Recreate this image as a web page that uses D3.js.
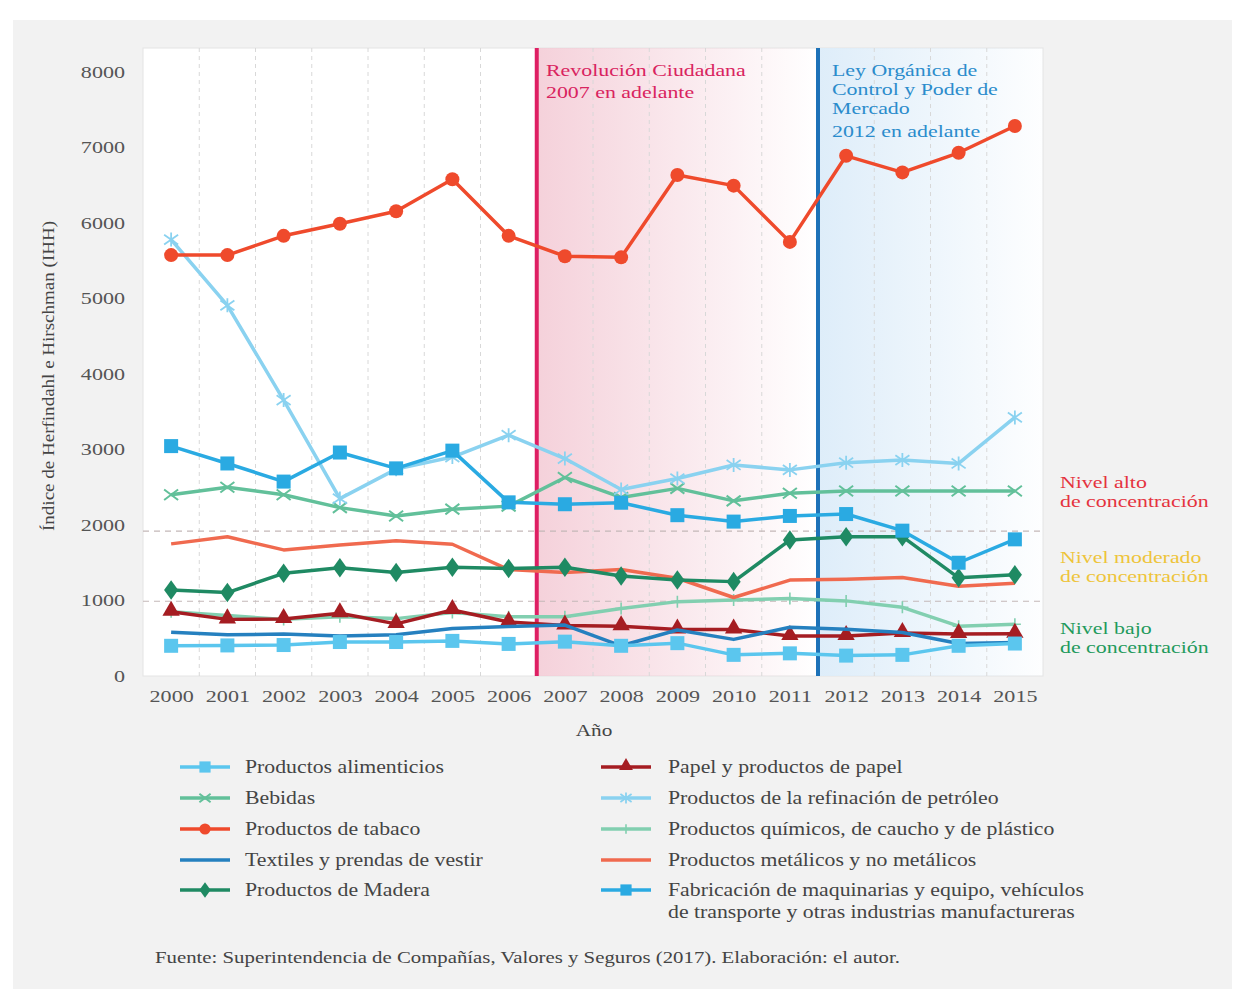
<!DOCTYPE html>
<html>
<head>
<meta charset="utf-8">
<script src="https://cdn.jsdelivr.net/npm/d3@7"></script>
<style>
  body { margin: 0; background: #fff; }
  text { font-family: "Liberation Serif", "DejaVu Serif", serif; }
</style>
</head>
<body>
<svg width="1252" height="998"></svg>
<script>
// Data
const years = d3.range(2000, 2016);
const yTicks = [0, 1000, 2000, 3000, 4000, 5000, 6000, 7000, 8000];
const thresholds = [990, 1920];

const alimenticios = [400, 405, 410, 450, 450, 465, 425, 455, 400, 435, 280, 300, 270, 280, 400, 430];
const bebidas = [2400, 2500, 2400, 2230, 2120, 2210, 2250, 2630, 2365, 2485, 2320, 2420, 2450, 2450, 2450, 2450];
const tabaco = [5575, 5575, 5830, 5990, 6155, 6580, 5830, 5560, 5545, 6635, 6495, 5750, 6890, 6670, 6930, 7285];
const textiles = [580, 545, 555, 530, 545, 630, 655, 675, 400, 610, 485, 645, 620, 575, 430, 445];
const madera = [1140, 1105, 1360, 1435, 1370, 1440, 1425, 1440, 1325, 1270, 1250, 1800, 1845, 1845, 1300, 1340];
const papel = [850, 750, 755, 830, 690, 875, 715, 670, 660, 615, 615, 530, 530, 570, 555, 560];
const refinacion = [5780, 4910, 3655, 2350, 2740, 2900, 3190, 2880, 2470, 2615, 2795, 2730, 2825, 2860, 2815, 3425];
const quimicos = [850, 800, 750, 785, 760, 840, 785, 785, 895, 985, 1005, 1025, 995, 910, 660, 685];
const metalicos = [1750, 1845, 1670, 1735, 1790, 1745, 1410, 1370, 1410, 1295, 1040, 1270, 1280, 1305, 1190, 1230];
const maquinarias = [3045, 2815, 2575, 2960, 2750, 2985, 2300, 2275, 2295, 2130, 2045, 2120, 2145, 1925, 1500, 1810];

const series = [
  { name: "Productos alimenticios", values: alimenticios, color: "#5bc6ee", marker: "square", col: 0 },
  { name: "Bebidas", values: bebidas, color: "#62c09a", marker: "x", col: 0 },
  { name: "Productos de tabaco", values: tabaco, color: "#ef4a2c", marker: "circle", col: 0 },
  { name: "Textiles y prendas de vestir", values: textiles, color: "#2580bf", marker: null, col: 0 },
  { name: "Productos de Madera", values: madera, color: "#1f8a63", marker: "diamond", col: 0 },
  { name: "Papel y productos de papel", values: papel, color: "#a51d22", marker: "triangle", col: 1 },
  { name: "Productos de la refinación de petróleo", values: refinacion, color: "#8ad2f0", marker: "asterisk", col: 1 },
  { name: "Productos químicos, de caucho y de plástico", values: quimicos, color: "#82cfb0", marker: "plus", col: 1 },
  { name: "Productos metálicos y no metálicos", values: metalicos, color: "#f06a4f", marker: null, col: 1 },
  { name: ["Fabricación de maquinarias y equipo, vehículos", "de transporte y otras industrias manufactureras"], values: maquinarias, color: "#2aaae2", marker: "square", col: 1 }
];

// Draw order (back to front)
const drawOrder = [7, 5, 3, 0, 8, 4, 1, 6, 9, 2];

const svg = d3.select("svg");

// text helper: the original typeface is wider than Liberation Serif, so stretch horizontally
function addText(x, y, str, size, color, k, anchor) {
  return svg.append("text")
    .attr("transform", `translate(${x},${y}) scale(${k},1)`)
    .attr("text-anchor", anchor || "start")
    .attr("font-size", size)
    .attr("fill", color)
    .text(str);
}

// Background panel
svg.append("rect")
  .attr("x", 13).attr("y", 20)
  .attr("width", 1219).attr("height", 969)
  .attr("fill", "#f2f2f2");

const plot = { left: 143, right: 1043, top: 48, bottom: 676 };

const x = d3.scalePoint()
  .domain(years)
  .range([plot.left, plot.right])
  .padding(0.5);

const y = d3.scaleLinear()
  .domain([0, 8000])
  .range([676, 72]);

const step = x.step();
const midX = yr => x(Math.floor(yr)) + step * (yr - Math.floor(yr));

// Plot background
svg.append("rect")
  .attr("x", plot.left).attr("y", plot.top)
  .attr("width", plot.right - plot.left).attr("height", plot.bottom - plot.top)
  .attr("fill", "#ffffff")
  .attr("stroke", "#e4e4e4");

// Gradients for periods
const defs = svg.append("defs");
const gPink = defs.append("linearGradient").attr("id", "gPink");
gPink.append("stop").attr("offset", "0%").attr("stop-color", "#f3c9d4").attr("stop-opacity", 0.85);
gPink.append("stop").attr("offset", "100%").attr("stop-color", "#f3c9d4").attr("stop-opacity", 0);
const gBlue = defs.append("linearGradient").attr("id", "gBlue");
gBlue.append("stop").attr("offset", "0%").attr("stop-color", "#dcecf9").attr("stop-opacity", 0.95);
gBlue.append("stop").attr("offset", "100%").attr("stop-color", "#dcecf9").attr("stop-opacity", 0.05);

svg.append("rect")
  .attr("x", midX(2006.5)).attr("y", plot.top)
  .attr("width", midX(2011.5) - midX(2006.5)).attr("height", plot.bottom - plot.top)
  .attr("fill", "url(#gPink)");

svg.append("rect")
  .attr("x", midX(2011.5)).attr("y", plot.top)
  .attr("width", plot.right - midX(2011.5)).attr("height", plot.bottom - plot.top)
  .attr("fill", "url(#gBlue)");

// Vertical dashed grid between years
svg.append("g")
  .selectAll("line")
  .data(years.slice(0, -1).map(d => d + 0.5).filter(d => d !== 2006.5 && d !== 2011.5))
  .enter()
  .append("line")
  .attr("x1", d => midX(d)).attr("x2", d => midX(d))
  .attr("y1", plot.top).attr("y2", plot.bottom)
  .attr("stroke", "#d8d8d8")
  .attr("stroke-dasharray", "4,4");

// Threshold lines
svg.append("g")
  .selectAll("line")
  .data(thresholds)
  .enter()
  .append("line")
  .attr("x1", plot.left).attr("x2", plot.right)
  .attr("y1", d => y(d)).attr("y2", d => y(d))
  .attr("stroke", "#c4b8b8")
  .attr("stroke-width", 1.2)
  .attr("stroke-dasharray", "6,5");

// Period lines
svg.append("line")
  .attr("x1", midX(2006.5)).attr("x2", midX(2006.5))
  .attr("y1", plot.top).attr("y2", plot.bottom)
  .attr("stroke", "#de1f63").attr("stroke-width", 4);
svg.append("line")
  .attr("x1", midX(2011.5)).attr("x2", midX(2011.5))
  .attr("y1", plot.top).attr("y2", plot.bottom)
  .attr("stroke", "#1d72b8").attr("stroke-width", 4);

// Axes
const tickK = 1.3;
const yAxis = svg.append("g")
  .attr("transform", `translate(${plot.left}, 0)`)
  .call(d3.axisLeft(y).tickValues(yTicks).tickSize(0).tickPadding(18).tickFormat(d3.format("d")));
yAxis.select(".domain").remove();
yAxis.selectAll("text")
  .attr("font-size", 17).attr("fill", "#555")
  .attr("x", -18 / tickK)
  .attr("transform", `scale(${tickK},1)`);

const xAxis = svg.append("g")
  .attr("transform", `translate(0, ${plot.bottom})`)
  .call(d3.axisBottom(x).tickSize(0).tickPadding(14).tickFormat(d3.format("d")));
xAxis.select(".domain").remove();
xAxis.selectAll("text")
  .attr("font-size", 17).attr("fill", "#555")
  .attr("transform", `scale(${tickK},1)`);

// Axis titles
svg.append("text")
  .attr("transform", "translate(54,376) rotate(-90) scale(1.12,1)")
  .attr("text-anchor", "middle")
  .attr("font-size", 17).attr("fill", "#444")
  .text("Índice de Herfindahl e Hirschman (IHH)");

addText(594, 736, "Año", 17, "#444", 1.25, "middle");

// Marker drawing
function drawMarker(g, type, color, cx, cy, scale) {
  const s = scale || 1;
  if (type === "square") {
    g.append("rect").attr("x", cx - 7 * s).attr("y", cy - 7 * s)
      .attr("width", 14 * s).attr("height", 14 * s).attr("fill", color);
  } else if (type === "circle") {
    g.append("circle").attr("cx", cx).attr("cy", cy).attr("r", 7 * s).attr("fill", color);
  } else if (type === "diamond") {
    g.append("path").attr("d", d3.symbol(d3.symbolDiamond, 110 * s * s)())
      .attr("transform", `translate(${cx},${cy}) scale(1.25,1)`).attr("fill", color);
  } else if (type === "triangle") {
    g.append("path").attr("d", d3.symbol(d3.symbolTriangle, 130 * s * s)())
      .attr("transform", `translate(${cx},${cy - 1})`).attr("fill", color);
  } else if (type === "x") {
    const r = 7 * s;
    g.append("path").attr("d", `M${cx - r},${cy - r * 0.75}L${cx + r},${cy + r * 0.75}M${cx - r},${cy + r * 0.75}L${cx + r},${cy - r * 0.75}`)
      .attr("stroke", color).attr("stroke-width", 2).attr("fill", "none");
  } else if (type === "asterisk") {
    const r = 7 * s;
    g.append("path").attr("d", `M${cx - r},${cy - r * 0.7}L${cx + r},${cy + r * 0.7}M${cx - r},${cy + r * 0.7}L${cx + r},${cy - r * 0.7}M${cx},${cy - r}L${cx},${cy + r}`)
      .attr("stroke", color).attr("stroke-width", 1.8).attr("fill", "none");
  } else if (type === "plus") {
    const r = 6 * s;
    g.append("path").attr("d", `M${cx},${cy - r}L${cx},${cy + r}M${cx - r},${cy}L${cx + r},${cy}`)
      .attr("stroke", color).attr("stroke-width", 1.6).attr("fill", "none");
  }
}

// Lines
const line = d3.line()
  .x((d, i) => x(years[i]))
  .y(d => y(d));

drawOrder.forEach(idx => {
  const s = series[idx];
  const g = svg.append("g");
  g.append("path")
    .datum(s.values)
    .attr("d", line)
    .attr("fill", "none")
    .attr("stroke", s.color)
    .attr("stroke-width", 3.5)
    .attr("stroke-linejoin", "round");
  if (s.marker) {
    s.values.forEach((v, i) => drawMarker(g, s.marker, s.color, x(years[i]), y(v), 1));
  }
});

// Period annotations
const notes = [
  { lines: ["Revolución Ciudadana", "2007 en adelante"], x: 546, ys: [76, 98], color: "#d9245f" },
  { lines: ["Ley Orgánica de", "Control y Poder de", "Mercado", "2012 en adelante"], x: 832, ys: [76, 95, 114, 137], color: "#2b8ccc" }
];
notes.forEach(n => {
  n.lines.forEach((t, i) => addText(n.x, n.ys[i], t, 17.5, n.color, 1.25));
});

// Concentration level labels
const levels = [
  { lines: ["Nivel alto", "de concentración"], y: 488, color: "#e5333e" },
  { lines: ["Nivel moderado", "de concentración"], y: 563, color: "#eec43a" },
  { lines: ["Nivel bajo", "de concentración"], y: 634, color: "#1f9a5c" }
];
levels.forEach(l => {
  l.lines.forEach((t, i) => addText(1060, l.y + i * 19, t, 17.5, l.color, 1.25));
});

// Legend
const legendCols = [{ x: 180, tx: 245 }, { x: 601, tx: 668 }];
const rowY = [767, 798, 829, 860, 890];
[0, 1].forEach(c => {
  series.filter(s => s.col === c).forEach((s, i) => {
    const cy = rowY[i];
    const lx = legendCols[c].x;
    const g = svg.append("g");
    g.append("line")
      .attr("x1", lx).attr("x2", lx + 50)
      .attr("y1", cy).attr("y2", cy)
      .attr("stroke", s.color).attr("stroke-width", 3.5);
    if (s.marker) drawMarker(g, s.marker, s.color, lx + 25, cy, 0.8);
    const names = Array.isArray(s.name) ? s.name : [s.name];
    names.forEach((t, j) => addText(legendCols[c].tx, cy + 6 + j * 22, t, 18, "#444", 1.21));
  });
});

// Source note
addText(155, 963, "Fuente: Superintendencia de Compañías, Valores y Seguros (2017). Elaboración: el autor.", 16, "#444", 1.3);
</script>
</body>
</html>
